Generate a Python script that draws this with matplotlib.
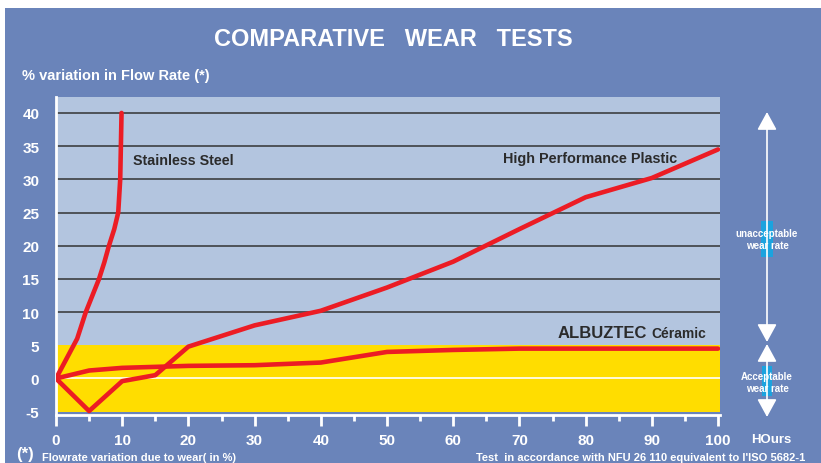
import matplotlib.pyplot as plt
from matplotlib.patches import FancyArrowPatch, Rectangle

plt.rcParams["axes.unicode_minus"] = False

BG = "#6A84BA"
PLOT_BLUE = "#B3C5DF"
YELLOW = "#FFDD00"
RED = "#EC1C24"
DARK = "#2B2B2B"
CYAN = "#1BA3DF"

steel_x = [0, 1.6, 3.2, 4.5, 5.5, 6.5, 7.3, 8.0, 8.8, 9.4, 9.7, 9.9]
steel_y = [0, 3, 6, 10, 12.5, 15, 17.5, 20, 22.5, 25, 30, 40]

plastic_x = [0, 5, 10, 15, 20, 30, 40, 50, 60, 70, 80, 90, 100]
plastic_y = [0, -4.9, -0.4, 0.5, 4.8, 8.0, 10.2, 13.7, 17.6, 22.5, 27.3, 30.2, 34.5]

ceramic_x = [0, 5, 10, 20, 30, 40, 50, 60, 70, 100]
ceramic_y = [0, 1.2, 1.6, 1.9, 2.0, 2.4, 4.0, 4.3, 4.5, 4.5]

y_ticks = [-5, 0, 5, 10, 15, 20, 25, 30, 35, 40]
x_ticks = [0, 10, 20, 30, 40, 50, 60, 70, 80, 90, 100]

NARROW = ["Liberation Sans Narrow", "Liberation Sans", "DejaVu Sans"]
SANS = ["Liberation Sans", "DejaVu Sans"]


def fy(p):
    return 1 - p / 464


fig = plt.figure(figsize=(8.21, 4.64), dpi=100)
fig.patch.set_facecolor("white")
fig.patches.append(Rectangle((5 / 821, 0), 1, 1 - 9 / 464, transform=fig.transFigure,
                             facecolor=BG, edgecolor="none", zorder=-10))

ax = fig.add_axes([56 / 821, fy(416), (720 - 56) / 821, (416 - 98) / 464])
ax.set_facecolor("none")
ax.set_xlim(0, 100.3)
ax.set_ylim(-5.5, 42.4)

ax.axhspan(5, 42.4, color=PLOT_BLUE, zorder=0, lw=0)
ax.axhspan(-5, 5, color=YELLOW, zorder=0, lw=0)
for v in y_ticks:
    if v >= 10:
        ax.axhline(v, color="#333333", lw=1.1, zorder=1)
ax.axhline(0, color="white", lw=1.2, zorder=1)

for xs, ys in [(steel_x, steel_y), (plastic_x, plastic_y), (ceramic_x, ceramic_y)]:
    ax.plot(xs, ys, color=RED, lw=3.3, zorder=3, solid_joinstyle="round", solid_capstyle="round")

for side in ["top", "right"]:
    ax.spines[side].set_visible(False)
for side in ["left", "bottom"]:
    ax.spines[side].set_color("white")
    ax.spines[side].set_linewidth(2)

ax.set_xticks(x_ticks)
ax.set_xticks([5 + 10 * i for i in range(10)], minor=True)
ax.set_yticks(y_ticks)
ax.tick_params(axis="x", which="major", length=8, width=2, color="white", pad=5)
ax.tick_params(axis="x", which="minor", length=4, width=2, color="white")
ax.tick_params(axis="y", length=0, pad=12)
for lab in ax.get_xticklabels() + ax.get_yticklabels():
    lab.set_color("white")
    lab.set_fontweight("bold")
    lab.set_fontsize(11)
    lab.set_family(NARROW)

ax.text(11.6, 32.9, "Stainless Steel", color=DARK, fontsize=10.3, fontweight="bold",
        family=SANS, va="center")
ax.text(67.5, 33.2, "High Performance Plastic", color=DARK, fontsize=10.4, fontweight="bold",
        family=SANS, va="center")
t = ax.text(75.8, 7.0, "ALBUZTEC", color=DARK, fontsize=12, fontweight="bold",
            family=SANS, va="center")
ax.annotate("Céramic", xycoords=t, xy=(1, 0), xytext=(3, 0), textcoords="offset points",
            color=DARK, fontsize=10, fontweight="bold", family=SANS, va="bottom")

fig.text(393 / 821, fy(40), "COMPARATIVE   WEAR   TESTS", color="white", fontsize=17,
         fontweight="bold", family=NARROW, ha="center", va="center")
fig.text(22 / 821, fy(76), "% variation in Flow Rate (*)", color="white", fontsize=10.5,
         fontweight="bold", family=NARROW, va="center")
fig.text(751 / 821, fy(440), "HOurs", color="white", fontsize=9.5,
         fontweight="bold", family=NARROW, va="center")
fig.text(16 / 821, fy(455), "(*)", color="white", fontsize=12,
         fontweight="bold", family=NARROW, va="center")
fig.text(42 / 821, fy(458), "Flowrate variation due to wear( in %)", color="white", fontsize=8,
         fontweight="bold", family=SANS, va="center")
fig.text(476 / 821, fy(463.5), "Test  in accordance with NFU 26 110 equivalent to l'ISO 5682-1",
         color="white", fontsize=8, fontweight="bold", family=SANS, va="bottom")

# right-hand arrows
ax_x = 767 / 821
arrow = dict(arrowstyle="<|-|>,head_length=0.55,head_width=0.3", color="white", lw=1.2,
             mutation_scale=20, shrinkA=0, shrinkB=0, transform=fig.transFigure, zorder=2)
fig.patches.append(Rectangle((761 / 821, fy(258)), 12 / 821, 36 / 464, transform=fig.transFigure,
                             facecolor=CYAN, edgecolor="none", zorder=1))
fig.patches.append(Rectangle((762 / 821, fy(397)), 10 / 821, 30 / 464, transform=fig.transFigure,
                             facecolor=CYAN, edgecolor="none", zorder=1))
fig.add_artist(FancyArrowPatch((ax_x, fy(113)), (ax_x, fy(343)), **arrow))
fig.add_artist(FancyArrowPatch((ax_x, fy(345)), (ax_x, fy(418)), **arrow))
for txt, py in [("unacceptable\nwear rate", 240), ("Acceptable\nwear rate", 383)]:
    fig.text(ax_x, fy(py), txt, color="white", fontsize=7, fontweight="bold", family=SANS,
             ha="center", va="center", linespacing=1.3, zorder=5)

fig.savefig("out.png", dpi=100, facecolor=fig.get_facecolor())
